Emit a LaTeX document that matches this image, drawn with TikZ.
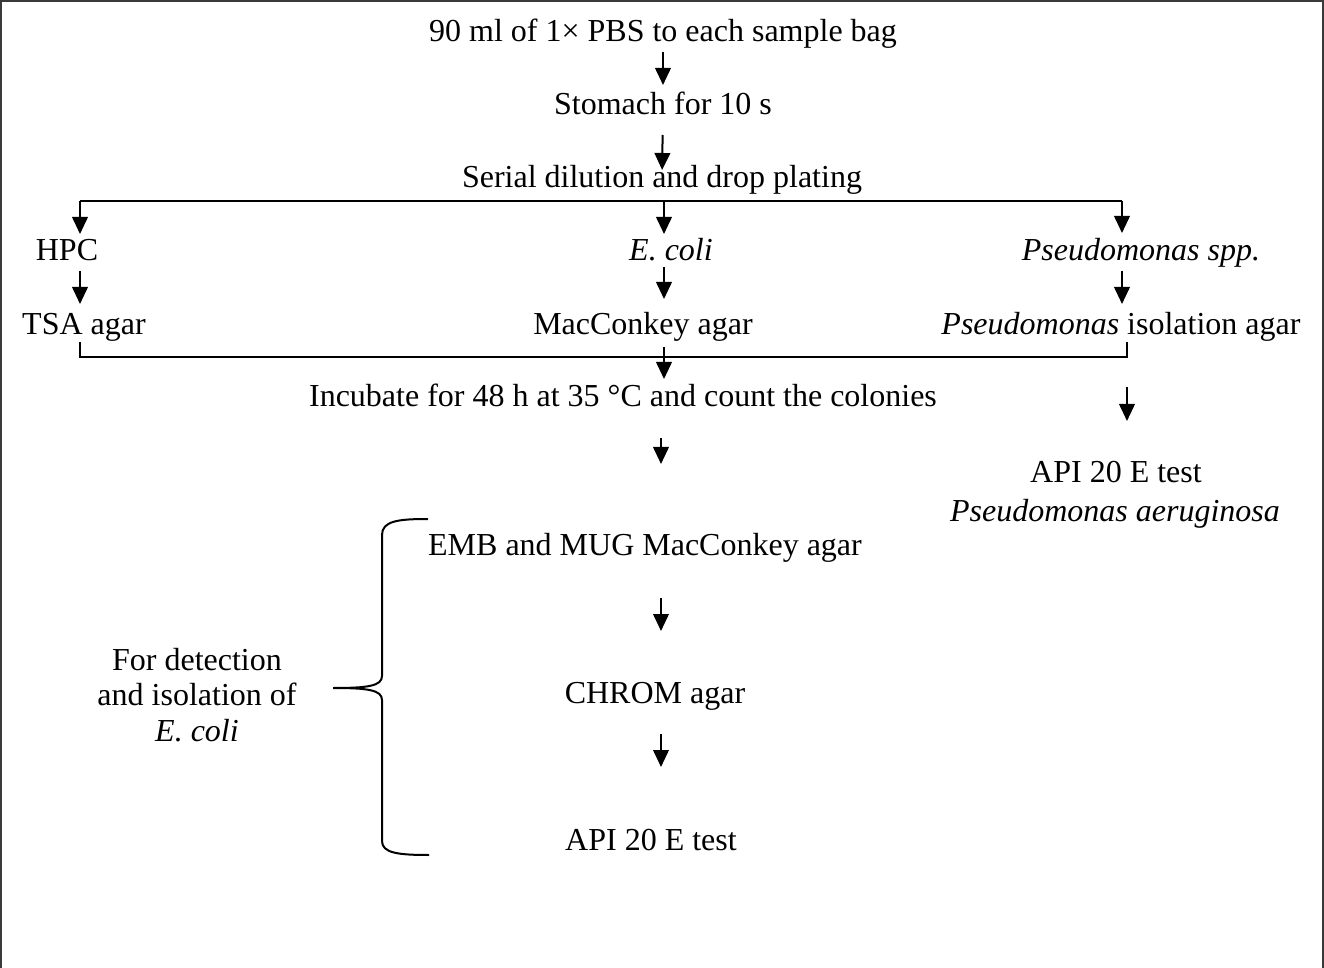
\documentclass[tikz,border=0pt]{standalone}
\usepackage{fontspec}
\setmainfont{Liberation Serif}
\usetikzlibrary{arrows.meta}
\definecolor{rim}{HTML}{3A3A3A}
\tikzset{fc/.style={x=.5pt,y=-.5pt,line width=1pt,font=\fontsize{16}{17.8}\selectfont},
  tx/.style={anchor=base,inner sep=0pt,text height=11pt,text depth=3pt},
  arr/.style={-{Triangle[length=8.5pt,width=7.8pt]}}}

\begin{document}
\begin{tikzpicture}[fc]
  \useasboundingbox (0,0) rectangle (1324,968);
  \draw[rim] (1,968)--(1,1)--(1323,1)--(1323,968);
  \node[tx] (pbs) at (663,42){90 ml of 1× PBS to each sample bag};
  \node[tx] (stomach) at (663,115){Stomach for 10 s};
  \node[tx] (serial) at (662,188){Serial dilution and drop plating};
  \node[tx] (hpc) at (67,261){HPC};\node[tx] (ecoli) at (671,261){\textit{E. coli}};
  \node[tx] (pspp) at (1141,261){\textit{Pseudomonas spp.}};
  \node[tx] (tsa) at (84,335){TSA agar};\node[tx] (mac) at (643,335){MacConkey agar};
  \node[tx] (iso) at (1121,335){\textit{Pseudomonas} isolation agar};
  \node[tx] (inc) at (623,407){Incubate for 48 h at 35 °C and count the colonies};
  \node[tx] (apir) at (1116,482){API 20 E test};\node[tx] (aer) at (1115,522){\textit{Pseudomonas aeruginosa}};
  \node[tx] (emb) at (645,555){EMB and MUG MacConkey agar};
  \node[tx] (chrom) at (655,703){CHROM agar};\node[tx] (apil) at (651,850){API 20 E test};
  \node[align=center,inner sep=0pt] (note) at (197,695){For detection\\and isolation of\\\textit{E. coli}};
  \coordinate (bl) at (80,201);\coordinate (bm) at (664,201);\coordinate (br) at (1122,201);
  \coordinate (ml) at (80,357);\coordinate (mr) at (1127,357);\coordinate (col) at (661,420);
  \draw[arr,shorten <=1.5pt,shorten >=3.5pt] (pbs)--(stomach);
  \draw[arr,shorten <=6.5pt,shorten >=-2.5pt] (stomach)--(serial);
  \draw (bl)--(br);
  \draw[arr,shorten >=2pt] (bl)--(bl|-hpc.north);\draw[arr,shorten >=2pt] (bm)--(bm|-ecoli.north);
  \draw[arr,shorten >=2.5pt] (br)--(br|-pspp.north);
  \draw[arr,shorten <=1.5pt,shorten >=4pt] (hpc.south-|bl)--(tsa.north-|bl);
  \draw[arr,shorten <=-.5pt,shorten >=6.5pt] (ecoli.south-|bm)--(mac.north-|bm);
  \draw[arr,shorten <=1.5pt,shorten >=4pt] (pspp.south-|br)--(iso.north-|br);
  \draw (tsa.south-|ml)--(ml)--(mr)--(iso.south-|mr);
  \draw[arr,shorten <=2.5pt,shorten >=2.5pt] (mac.south-|bm)--(inc.north-|bm);
  \draw[arr,shorten <=22.5pt,shorten >=19pt] (iso.south-|mr)--(apir.north-|mr);
  \draw[arr,shorten <=12pt,shorten >=34pt] (inc.south-|col)--(emb.north-|col);
  \draw[arr,shorten <=18pt,shorten >=24.5pt] (emb.south-|col)--(chrom.north-|col);
  \draw[arr,shorten <=12pt,shorten >=30pt] (chrom.south-|col)--(apil.north-|col);
  \draw (428,519) .. controls (398,519) and (382,521) .. (382,535) -- (382,676) .. controls (382,686) and (368,688) .. (333,688)
    .. controls (368,688) and (382,690) .. (382,700) -- (382,841) .. controls (382,853) and (398,855) .. (429,855);
\end{tikzpicture}
\end{document}
